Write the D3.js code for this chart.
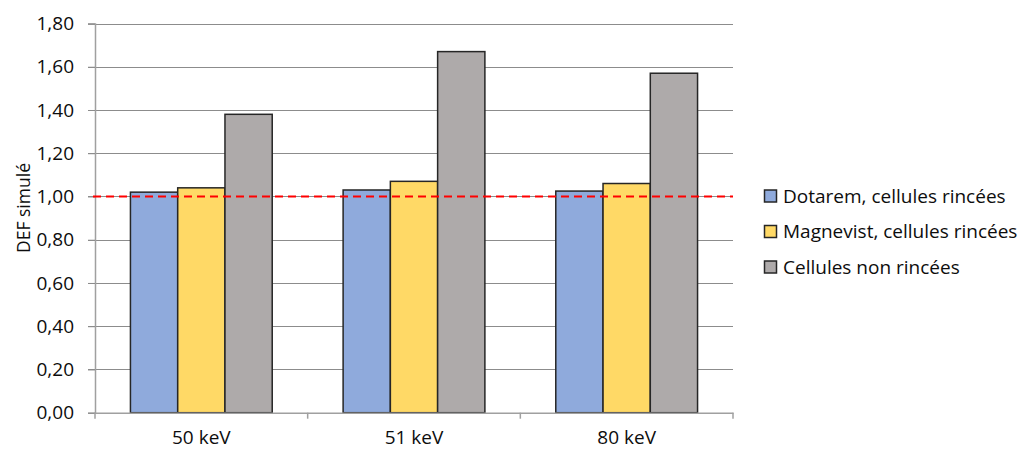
<!DOCTYPE html>
<html><head><meta charset="utf-8">
<script src="https://cdnjs.cloudflare.com/ajax/libs/d3/7.8.5/d3.min.js"></script>
<style>body{margin:0;background:#fff}svg{display:block}text{font-family:"Open Sans",sans-serif;fill:#0d0d0d}</style>
</head><body><svg id="c" width="1025" height="450"></svg>
<script>
const categories = ["50 keV", "51 keV", "80 keV"];
const seriesNames = ["Dotarem, cellules rincées", "Magnevist, cellules rincées", "Cellules non rincées"];
const dotarem = [1.02, 1.03, 1.025];
const magnevist = [1.04, 1.07, 1.06];
const nonRincees = [1.38, 1.67, 1.57];
const yTicks = [0, 0.2, 0.4, 0.6, 0.8, 1.0, 1.2, 1.4, 1.6, 1.8];
const refValue = 1.0;
const colors = ["#8faadc", "#ffd966", "#aeaaaa"];
const seriesValues = [dotarem, magnevist, nonRincees];

const svg = d3.select("#c");
const L = 95, R = 733, T = 23.5, B = 412.7;
const x = d3.scaleBand().domain(categories).range([L, R]).paddingInner(0).paddingOuter(0);
const y = d3.scaleLinear().domain([0, 1.8]).range([B, T]);
const gap = 1.5; // gap width relative to bar
const barW = x.bandwidth() / (3 + gap);

// gridlines
svg.append("g").selectAll("line").data(yTicks.filter(d => d > 0)).join("line")
  .attr("x1", L - 7).attr("x2", R).attr("y1", d => Math.round(y(d)) + 0.5).attr("y2", d => Math.round(y(d)) + 0.5)
  .attr("stroke", "#8c8c8c").attr("stroke-width", 1);

// y axis
const yAxis = d3.axisLeft(y).tickValues(yTicks).tickSize(7).tickPadding(14)
  .tickFormat(d => d3.format(".2f")(d).replace(".", ","));
const gy = svg.append("g").attr("transform", `translate(${L},0)`).call(yAxis);
gy.select(".domain").attr("stroke", "#a0a0a0").attr("stroke-width", 1.5);
gy.selectAll(".tick line").attr("stroke", "#8c8c8c");
gy.selectAll(".tick text").attr("font-size", 19).attr("font-family", "Open Sans").attr("fill", "#0d0d0d");

// bars
seriesValues.forEach((vals, si) => {
  svg.append("g").selectAll("rect").data(categories).join("rect")
    .attr("x", (c) => x(c) + barW * gap / 2 + si * barW)
    .attr("y", (c, i) => y(vals[i]))
    .attr("width", barW)
    .attr("height", (c, i) => y(0) - y(vals[i]))
    .attr("fill", colors[si]).attr("stroke", "#262626").attr("stroke-width", 1.5);
});

// x axis
const xAxis = d3.axisBottom(x).tickSize(0).tickPadding(18);
const gx = svg.append("g").attr("transform", `translate(0,${B})`).call(xAxis);
gx.select(".domain").attr("stroke", "#a0a0a0").attr("stroke-width", 1.5);
gx.selectAll(".tick text").attr("font-size", 19).attr("font-family", "Open Sans").attr("fill", "#0d0d0d");
const bounds = [L].concat(categories.map(c => x(c) + x.bandwidth()));
svg.append("g").selectAll("line").data(bounds).join("line")
  .attr("x1", d => d).attr("x2", d => d).attr("y1", B).attr("y2", B + 6)
  .attr("stroke", "#a0a0a0").attr("stroke-width", 1.5);

// reference line
svg.append("line").attr("x1", L - 2).attr("x2", R).attr("y1", y(refValue)).attr("y2", y(refValue))
  .attr("stroke", "#ff0000").attr("stroke-width", 2).attr("stroke-dasharray", "8,5");

// y title
svg.append("text").attr("transform", `translate(30,208) rotate(-90)`).attr("text-anchor", "middle")
  .attr("font-size", 17.5).text("DEF simulé");

// legend
const lg = svg.append("g").selectAll("g").data(seriesNames).join("g")
  .attr("transform", (d, i) => `translate(764,${196 + i * 35.5})`);
lg.append("rect").attr("x", 0.5).attr("y", -6).attr("width", 12).attr("height", 12)
  .attr("fill", (d, i) => colors[i]).attr("stroke", "#262626").attr("stroke-width", 1.5);
lg.append("text").attr("x", 19).attr("dy", "0.35em").attr("font-size", 19).text(d => d);
</script></body></html>
